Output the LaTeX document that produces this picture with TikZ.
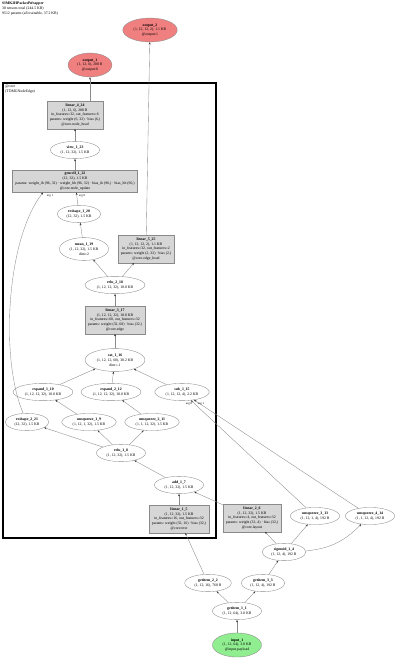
\documentclass[tikz,border=0pt]{standalone}
\usepackage{fontspec}
\setmainfont{Liberation Serif}
\usetikzlibrary{shapes.geometric,arrows.meta}

\definecolor{cinza}{HTML}{8A8A8A}
\definecolor{cinzaclaro}{HTML}{D6D6D6}
\definecolor{salmao}{HTML}{F08080}
\definecolor{verde}{HTML}{90EE90}

\tikzset{
  tensor/.style={ellipse, draw=cinza, fill=white, line width=0.35pt,
    inner xsep=3pt, inner ysep=2pt, align=center,
    font=\fontsize{3.8}{4.8}\selectfont},
  modulo/.style={rectangle, draw=cinza, fill=cinzaclaro, line width=0.35pt,
    inner xsep=3pt, inner ysep=2.4pt, align=center,
    font=\fontsize{3.8}{4.8}\selectfont},
  saida/.style={tensor, fill=salmao},
  entrada/.style={tensor, fill=verde},
  seta/.style={draw=cinza, line width=0.35pt,
    -{Stealth[length=2.4pt, width=1.8pt, color=black!80]}},
  rotulo/.style={inner sep=0pt, font=\fontsize{3}{3.6}\selectfont},
  cabecalho/.style={anchor=north west, inner sep=0pt, align=left,
    font=\fontsize{3.8}{4.6}\selectfont}
}

\begin{document}
\begin{tikzpicture}[x=1pt,y=-1pt]
  % Moldura da figura, com as mesmas proporções da original.
  \useasboundingbox (0,0) rectangle (400,661);

  % Resumo do modelo no canto superior esquerdo.
  \node[cabecalho] (resumo) at (2,2)
    {\textbf{SIMK2HPackedWrapper}\\38 tensors total (244.5 KB)\\9512 params (all trainable, 37.2 KB)};

  % Caixa do submódulo @core.
  \draw[line width=1.1pt] (3,83) rectangle (216,538);
  \node[cabecalho] (core) at (5,85) {@core\\(TDMGNodeEdge)};

  % Saídas do modelo.
  \node[saida] (out2) at (150,30) {\textbf{output\_2}\\(1, 12, 12, 2), 1.1 KB\\@output:1};
  \node[saida] (out1) at (90,65) {\textbf{output\_1}\\(1, 12, 6), 288 B\\@output:0};

  % Ramo dos nós: cabeça, GRU e agregação.
  \node[modulo] (lin4) at (75,115) {\textbf{linear\_4\_24}\\(1, 12, 6), 288 B\\in\_features=32, out\_features=6\\params: weight (6, 32) · bias (6,)\\@core.node\_head};
  \node[tensor] (view1) at (75,150) {\textbf{view\_1\_23}\\(1, 12, 32), 1.5 KB};
  \node[modulo] (gru1) at (75,181) {\textbf{grucell\_1\_22}\\(12, 32), 1.5 KB\\params: weight\_ih (96, 32) · weight\_hh (96, 32) · bias\_ih (96,) · bias\_hh (96,)\\@core.node\_update};
  \node[tensor] (resh1) at (79,214) {\textbf{reshape\_1\_20}\\(12, 32), 1.5 KB};
  \node[tensor] (mean1) at (84,249) {\textbf{mean\_1\_19}\\(1, 12, 32), 1.5 KB\\dim=2};
  \node[modulo] (lin5) at (146,249) {\textbf{linear\_5\_25}\\(1, 12, 12, 2), 1.1 KB\\in\_features=32, out\_features=2\\params: weight (2, 32) · bias (2,)\\@core.edge\_head};

  % Ramo das arestas.
  \node[tensor] (relu2) at (115,285) {\textbf{relu\_2\_18}\\(1, 12, 12, 32), 18.0 KB};
  \node[modulo] (lin3) at (115,320) {\textbf{linear\_3\_17}\\(1, 12, 12, 32), 18.0 KB\\in\_features=68, out\_features=32\\params: weight (32, 68) · bias (32,)\\@core.edge};
  \node[tensor] (cat1) at (115,360) {\textbf{cat\_1\_16}\\(1, 12, 12, 68), 38.2 KB\\dim=-1};
  \node[tensor] (exp1) at (43,392) {\textbf{expand\_1\_10}\\(1, 12, 12, 32), 18.0 KB};
  \node[tensor] (exp2) at (111,392) {\textbf{expand\_2\_12}\\(1, 12, 12, 32), 18.0 KB};
  \node[tensor] (sub1) at (182,392) {\textbf{sub\_1\_15}\\(1, 12, 12, 4), 2.2 KB};
  \node[tensor] (resh2) at (27,422) {\textbf{reshape\_2\_21}\\(12, 32), 1.5 KB};
  \node[tensor] (unsq1) at (89,422) {\textbf{unsqueeze\_1\_9}\\(1, 12, 1, 32), 1.5 KB};
  \node[tensor] (unsq2) at (152,422) {\textbf{unsqueeze\_2\_11}\\(1, 1, 12, 32), 1.5 KB};
  \node[tensor] (relu1) at (121,453) {\textbf{relu\_1\_8}\\(1, 12, 32), 1.5 KB};
  \node[tensor] (add1) at (179,485) {\textbf{add\_1\_7}\\(1, 12, 32), 1.5 KB};
  \node[modulo] (lin1) at (179,519) {\textbf{linear\_1\_5}\\(1, 12, 32), 1.5 KB\\in\_features=16, out\_features=32\\params: weight (32, 16) · bias (32,)\\@core.text};

  % Fora do submódulo: layout e entrada.
  \node[modulo] (lin2) at (252,518) {\textbf{linear\_2\_6}\\(1, 12, 32), 1.5 KB\\in\_features=4, out\_features=32\\params: weight (32, 4) · bias (32,)\\@core.layout};
  \node[tensor] (unsq3) at (315,516) {\textbf{unsqueeze\_3\_13}\\(1, 12, 1, 4), 192 B};
  \node[tensor] (unsq4) at (370,516) {\textbf{unsqueeze\_4\_14}\\(1, 1, 12, 4), 192 B};
  \node[tensor] (sigm1) at (284,552) {\textbf{sigmoid\_1\_4}\\(1, 12, 4), 192 B};
  \node[tensor] (getit2) at (208,583) {\textbf{getitem\_2\_2}\\(1, 12, 16), 768 B};
  \node[tensor] (getit3) at (263,583) {\textbf{getitem\_3\_3}\\(1, 12, 4), 192 B};
  \node[tensor] (getit1) at (237,611) {\textbf{getitem\_1\_1}\\(1, 12, 64), 3.0 KB};
  \node[entrada] (input1) at (237,645) {\textbf{input\_1}\\(1, 12, 64), 3.0 KB\\@input.payload};

  % Ligações de baixo para cima.
  \draw[seta] (input1) -- (getit1);
  \draw[seta] (getit1) -- (getit2);
  \draw[seta] (getit1) -- (getit3);
  \draw[seta] (getit2) -- (lin1);
  \draw[seta] (getit3) -- (sigm1);
  \draw[seta] (sigm1) -- (lin2);
  \draw[seta] (sigm1) -- (unsq3);
  \draw[seta] (sigm1) to[bend right=20] (unsq4);
  \draw[seta] (lin1) -- (add1);
  \draw[seta] (lin2) -- (add1);
  \draw[seta] (add1) -- (relu1);
  \draw[seta] (relu1) -- (resh2);
  \draw[seta] (relu1) -- (unsq1);
  \draw[seta] (relu1) -- (unsq2);
  \draw[seta] (unsq1) -- (exp1);
  \draw[seta] (unsq2) -- (exp2);
  \draw[seta] (unsq3) -- (sub1);
  \draw[seta] (unsq4) -- (sub1);
  \draw[seta] (exp1) -- (cat1);
  \draw[seta] (exp2) -- (cat1);
  \draw[seta] (sub1) -- (cat1);
  \draw[seta] (cat1) -- (lin3);
  \draw[seta] (lin3) -- (relu2);
  \draw[seta] (relu2) -- (mean1);
  \draw[seta] (relu2) -- (lin5);
  \draw[seta] (mean1) -- (resh1);
  \draw[seta] (resh1) -- (gru1);
  \draw[seta] (resh2) .. controls (0,360) and (6,240) .. ([xshift=-32pt]gru1.south);
  \draw[seta] (gru1) -- (view1);
  \draw[seta] (view1) -- (lin4);
  \draw[seta] (lin4.north -| out1) -- (out1);
  \draw[seta] (lin5) -- (out2);

  % Rótulos dos argumentos.
  \node[rotulo] (argru1) at (50,196) {arg 1};
  \node[rotulo] (argru0) at (82,196) {arg 0};
  \node[rotulo] (argsub0) at (189,404) {arg 0};
  \node[rotulo] (argsub1) at (201,404) {arg 1};
\end{tikzpicture}
\end{document}
